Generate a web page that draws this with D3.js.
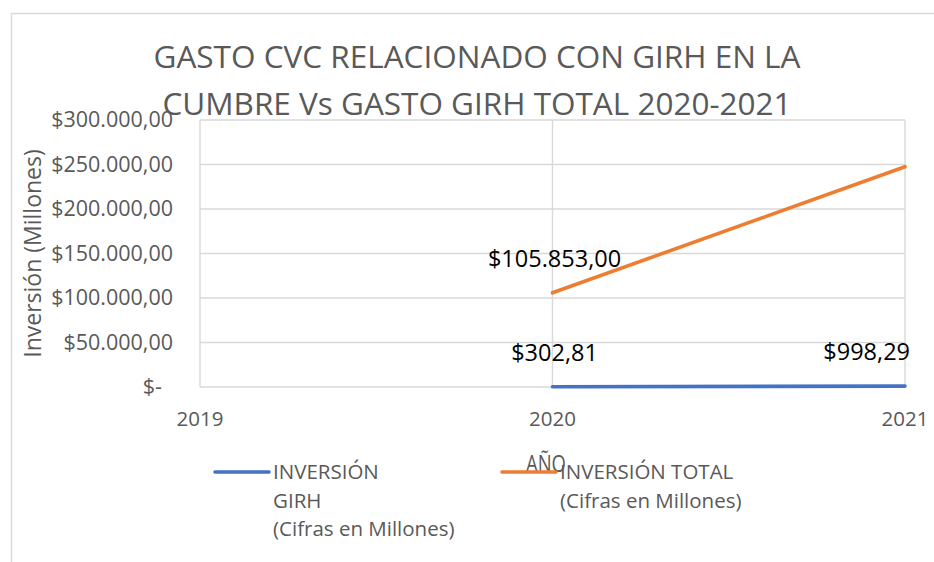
<!DOCTYPE html>
<html>
<head>
<meta charset="utf-8">
<script src="https://cdn.jsdelivr.net/npm/d3@7"></script>
<style>
    body { margin: 0; background: #fff; }
    text { font-family: "Open Sans", "Noto Sans", sans-serif; }
</style>
</head>
<body>
<script>
// chart data
const years = ["2019", "2020", "2021"];
const seriesNames = ["INVERSIÓN GIRH", "INVERSIÓN TOTAL"];
const girhValues = [null, 302.81, 998.29];
const totalValues = [null, 105853, 247500];
const seriesColors = ["#4472C4", "#ED7D31"];
const legendLines = [
    ["INVERSIÓN", "GIRH", "(Cifras en Millones)"],
    ["INVERSIÓN TOTAL", "(Cifras en Millones)"]
];
const yTicks = [0, 50000, 100000, 150000, 200000, 250000, 300000];
const titleLines = ["GASTO CVC RELACIONADO CON GIRH EN LA", "CUMBRE Vs GASTO GIRH TOTAL 2020-2021"];
const yTitle = "Inversión (Millones)";
const xTitle = "AÑO";
// only these points carry a data label in the original
const labelled = [[false, true, true], [false, true, false]];

// constants
const W = 934, H = 562;
const GRID = "#d9d9d9";
const GREY = "#595959";

// spanish style currency, 300.000,00
const locale = d3.formatLocale({decimal: ",", thousands: ".", grouping: [3], currency: ["$", ""]});
const money = locale.format("$,.2f");

let svg = d3.select("body")
    .append("svg")
    .attr("width", W)
    .attr("height", H);

// chart frame, only top and left edges are visible in the picture
svg.append("path")
    .attr("d", "M11.5,562 V13.5 H934")
    .attr("fill", "none")
    .attr("stroke", GRID)
    .attr("stroke-width", 1.5);

/**
 * Appends text at x,y with an optional vertical stretch
 */
function addText(parent, x, y, str, size, opts) {
    opts = opts || {};
    let sy = opts.sy || 1;
    return parent.append("text")
        .attr("transform", "translate(" + x + "," + y + ")" + (opts.rotate ? " rotate(" + opts.rotate + ")" : "") + " scale(1," + sy + ")")
        .attr("text-anchor", opts.anchor || "start")
        .attr("font-size", size)
        .attr("fill", opts.fill || GREY)
        .text(str);
}

// scales
let x = d3.scalePoint().domain(years).range([200, 905]);
let y = d3.scaleLinear().domain([0, 300000]).range([387, 120]);

// horizontal gridlines
svg.selectAll("line.hgrid")
    .data(yTicks)
    .enter()
    .append("line")
    .attr("class", "hgrid")
    .attr("x1", x(years[0]))
    .attr("x2", x(years[years.length - 1]))
    .attr("y1", d => y(d))
    .attr("y2", d => y(d))
    .attr("stroke", GRID)
    .attr("stroke-width", 1.4);

// vertical gridlines, one for every year
svg.selectAll("line.vgrid")
    .data(years)
    .enter()
    .append("line")
    .attr("class", "vgrid")
    .attr("x1", d => x(d))
    .attr("x2", d => x(d))
    .attr("y1", y(300000))
    .attr("y2", y(0))
    .attr("stroke", GRID)
    .attr("stroke-width", 1.4);

// y tick labels
yTicks.forEach(t => {
    if (t === 0) {
        addText(svg, 162, y(t) + 7, "$-", 21.5, {anchor: "end"});
    } else {
        addText(svg, 173, y(t) + 7, money(t), 21.5, {anchor: "end"});
    }
});

// x tick labels
years.forEach(yr => {
    addText(svg, x(yr), 426, yr, 20.5, {anchor: "middle"});
});

// lines
let line = d3.line()
    .defined(d => d.v !== null)
    .x(d => x(d.year))
    .y(d => y(d.v));

let allSeries = [girhValues, totalValues].map(vals => vals.map((v, i) => ({year: years[i], v: v})));

// orange drawn first so the blue sits on top, same as the picture
[1, 0].forEach(s => {
    svg.append("path")
        .datum(allSeries[s])
        .attr("d", line)
        .attr("fill", "none")
        .attr("stroke", seriesColors[s])
        .attr("stroke-width", 3.6)
        .attr("stroke-linecap", "round");
});

// data labels above the points
allSeries.forEach((series, s) => {
    series.forEach((d, i) => {
        if (!labelled[s][i]) return;
        let last = i === years.length - 1;
        addText(svg, last ? x(d.year) + 5 : x(d.year) + 2, y(d.v) - 26, money(d.v), 23.5,
            {anchor: last ? "end" : "middle", fill: "#000"});
    });
});

// title
titleLines.forEach((t, i) => {
    addText(svg, 477, 68 + i * 47, t, 31.5, {anchor: "middle"});
});

// axis titles
addText(svg, 41, (y(0) + y(300000)) / 2, yTitle, 23, {anchor: "middle", rotate: -90});
addText(svg, 546, 472, xTitle, 18.5, {anchor: "middle", sy: 1.3});

// legend
const legendX = [215, 502];
legendLines.forEach((lines, s) => {
    svg.append("line")
        .attr("x1", legendX[s])
        .attr("x2", legendX[s] + 54)
        .attr("y1", 472)
        .attr("y2", 472)
        .attr("stroke", seriesColors[s])
        .attr("stroke-width", 3.6)
        .attr("stroke-linecap", "round");
    lines.forEach((l, j) => {
        addText(svg, legendX[s] + 58, 479 + j * 28.5, l, 20.5);
    });
});
</script>
</body>
</html>
